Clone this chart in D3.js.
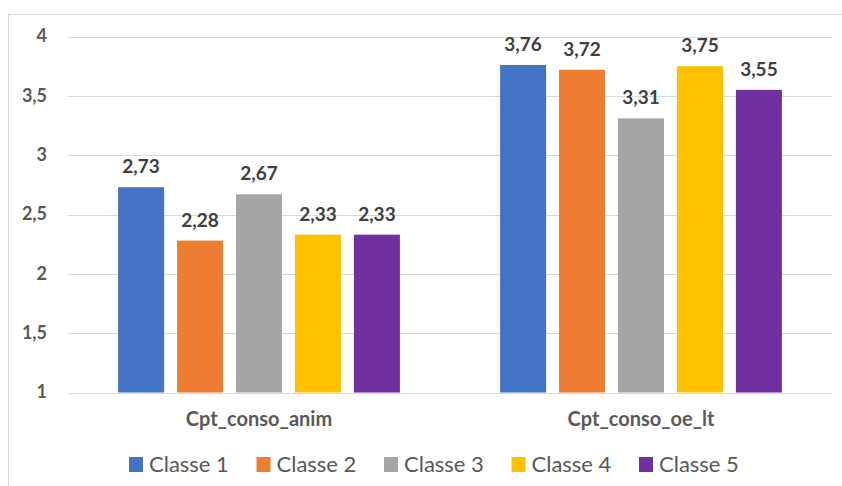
<!DOCTYPE html>
<html>
<head>
<meta charset="utf-8">
<script src="https://cdn.jsdelivr.net/npm/d3@7"></script>
<style>
  html, body { margin: 0; padding: 0; background: #fff; }
  svg { display: block; }
  text { font-family: Lato, "Open Sans", sans-serif; }
</style>
</head>
<body>
<svg id="chart" width="842" height="486"></svg>
<script>
// Chart data
const categories = ["Cpt_conso_anim", "Cpt_conso_oe_lt"];
const seriesNames = ["Classe 1", "Classe 2", "Classe 3", "Classe 4", "Classe 5"];
const classe1 = [2.73, 3.76];
const classe2 = [2.28, 3.72];
const classe3 = [2.67, 3.31];
const classe4 = [2.33, 3.75];
const classe5 = [2.33, 3.55];
const yTicks = [1, 1.5, 2, 2.5, 3, 3.5, 4];
const colors = ["#4472C4", "#ED7D31", "#A5A5A5", "#FFC000", "#7030A0"];

const seriesValues = [classe1, classe2, classe3, classe4, classe5];

const svg = d3.select("#chart");
const W = 842, H = 486;
const plot = { left: 68, right: 832, top: 36.5, bottom: 392.5 };

// Outer frame of the chart area
svg.append("rect")
  .attr("x", 8.5).attr("y", 14.5)
  .attr("width", W).attr("height", H)
  .attr("fill", "#fff")
  .attr("stroke", "#D9D9D9").attr("stroke-width", 1);

const y = d3.scaleLinear().domain([1, 4]).range([plot.bottom, plot.top]);
const x0 = d3.scaleBand().domain(categories).range([plot.left, plot.right]).padding(0);
const x1 = d3.scaleBand().domain(seriesNames)
  .range([0, x0.bandwidth()])
  .paddingInner(0.22).paddingOuter(0.85);

const fmt = v => d3.format(".2f")(v).replace(".", ",");
const fmtTick = v => String(v).replace(".", ",");

// Horizontal gridlines
svg.append("g").selectAll("line").data(yTicks).join("line")
  .attr("x1", plot.left).attr("x2", plot.right)
  .attr("y1", d => Math.round(y(d)) + 0.5).attr("y2", d => Math.round(y(d)) + 0.5)
  .attr("stroke", "#D9D9D9").attr("stroke-width", 1);

// Y axis tick labels
const yAxis = d3.axisLeft(y).tickValues(yTicks).tickFormat(fmtTick).tickSize(0).tickPadding(0);
const gy = svg.append("g").attr("transform", "translate(47,0)").call(yAxis);
gy.select(".domain").remove();
gy.selectAll("text")
  .attr("fill", "#595959")
  .style("font-size", "18px").style("font-weight", "bold")
  .style("font-family", "Lato, 'Open Sans', sans-serif")
  .attr("dy", "0.3em");

// Bars and value labels
const groups = svg.append("g").selectAll("g").data(categories).join("g")
  .attr("transform", d => `translate(${x0(d)},0)`);

groups.each(function(cat, ci) {
  const g = d3.select(this);
  const rows = seriesNames.map((s, si) => ({ s, si, v: seriesValues[si][ci] }));
  g.selectAll("rect").data(rows).join("rect")
    .attr("x", d => x1(d.s))
    .attr("y", d => y(d.v))
    .attr("width", x1.bandwidth())
    .attr("height", d => y(1) - y(d.v))
    .attr("fill", d => colors[d.si]);
  g.selectAll("text").data(rows).join("text")
    .attr("x", d => x1(d.s) + x1.bandwidth() / 2)
    .attr("y", d => y(d.v) - 14)
    .attr("text-anchor", "middle")
    .attr("fill", "#404040")
    .style("font-size", "19px").style("font-weight", "bold")
    .text(d => fmt(d.v));
});

// Category labels
const xAxis = d3.axisBottom(x0).tickSize(0).tickPadding(0);
const gx = svg.append("g").attr("transform", "translate(0,411)").call(xAxis);
gx.select(".domain").remove();
gx.selectAll("text")
  .attr("fill", "#595959")
  .style("font-size", "20px").style("font-weight", "bold")
  .style("font-family", "Lato, 'Open Sans', sans-serif")
  .attr("dy", "0.75em");

// Legend
const legendX = d3.scaleBand().domain(seriesNames).range([129, 129 + 127.5 * 5]).padding(0);
const legend = svg.append("g").selectAll("g").data(seriesNames).join("g")
  .attr("transform", d => `translate(${legendX(d)},457)`);
legend.append("rect")
  .attr("width", 14).attr("height", 15)
  .attr("fill", (d, i) => colors[i]);
legend.append("text")
  .attr("x", 20).attr("y", 15)
  .attr("fill", "#595959")
  .style("font-size", "22px")
  .text(d => d);
</script>
</body>
</html>
